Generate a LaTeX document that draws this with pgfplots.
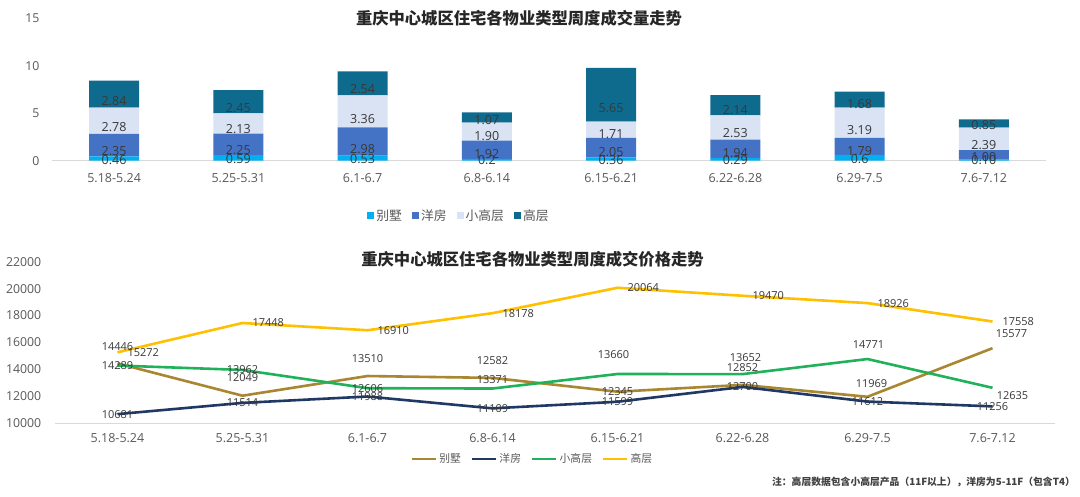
\documentclass[border=0pt]{standalone}
\usepackage{pgfplots}
\pgfplotsset{compat=1.18}
\usepackage{pgfplotstable}
\usepackage{fontspec}
\setmainfont{Open Sans}
\newfontfamily\cjk{Noto Sans CJK SC}
\definecolor{bsbar}{HTML}{00B0F0}
\definecolor{yfbar}{HTML}{4472C4}
\definecolor{xgbar}{HTML}{DAE3F3}
\definecolor{gcbar}{HTML}{0F6B8E}
\definecolor{bsline}{HTML}{A98730}
\definecolor{yfline}{HTML}{1F3864}
\definecolor{xgline}{HTML}{20B25A}
\definecolor{gcline}{HTML}{FFC000}
\definecolor{tickgray}{HTML}{595959}
\definecolor{labgray}{HTML}{383838}
\definecolor{basegray}{HTML}{D9D9D9}

\pgfplotstableread{
x bs yf xg gc
0 0.46 2.35 2.78 2.84
1 0.59 2.25 2.13 2.45
2 0.53 2.98 3.36 2.54
3 0.2 1.92 1.90 1.07
4 0.36 2.05 1.71 5.65
5 0.29 1.94 2.53 2.14
6 0.6 1.79 3.19 1.68
7 0.10 1.00 2.39 0.85
}\topdata

\pgfplotstableread{
x bs bdx bdy yf xg gdx gdy gc
0 14446 0 17 10681 14289 0 0 15272
1 12049 0 18 11514 13962 0 0 17448
2 13510 0 17 11988 12606 0 0 16910
3 13371 0 -2 11109 12582 0 28 18178
4 12345 0 0 11599 13660 -4 19 20064
5 12852 0 17 12700 13652 3 17 19470
6 11969 4 13 11612 14771 1 14 18926
7 15577 19 15 11256 12635 20 -8 17558
}\botdata

\pgfplotsset{
  /pgf/number format/assume math mode=true,
  /pgf/number format/set thousands separator={},
  common/.style={
    scale only axis,
    anchor=south west,
    xmin=-0.5, xmax=7.5,
    xtick={0,...,7},
    xticklabels={5.18-5.24,5.25-5.31,6.1-6.7,6.8-6.14,6.15-6.21,6.22-6.28,6.29-7.5,7.6-7.12},
    major tick length=0pt,
    axis lines*=left,
    y axis line style={draw=none},
    x axis line style={draw=basegray, line width=1pt},
    clip=false,
    scaled y ticks=false,
    tick label style={text=tickgray},
    xticklabel style={anchor=center, font=\fontsize{12.5}{13}\selectfont},
    yticklabel style={anchor=east, font=\fontsize{12.3}{13}\selectfont},
  },
}

\begin{document}
\begin{tikzpicture}
\useasboundingbox[fill=white] (0pt,0pt) rectangle (1080pt,497pt);

% ---------- top: volumes ----------
\begin{axis}[common,
  at={(52pt,336.3pt)},
  width=994pt, height=142.5pt,
  ymin=0, ymax=15, ytick={0,5,10,15},
  xticklabel style={yshift=-17.6pt},
  yticklabel style={xshift=-9pt},
  ybar stacked, bar width=50pt,
  point meta=explicit symbolic,
  nodes near coords,
  every node near coord/.append style={font=\fontsize{12.5}{13}\selectfont, text=labgray, anchor=center},
  legend image code/.code={\fill[#1] (0pt,-3.5pt) rectangle (7pt,3.5pt);},
  legend style={at={(0.4095,-0.388)}, anchor=center, draw=none, fill=none,
    legend columns=4, font=\cjk\fontsize{12.8}{14}\selectfont, text=tickgray,
    /tikz/every even column/.append style={column sep=8pt}},
]
\addplot[fill=bsbar, draw=none,
  visualization depends on={\thisrow{bs} \as \h},
  every node near coord/.append style={yshift={-2.375pt*\h}}]
  table[x=x, y=bs, meta=bs] {\topdata};
\addlegendentry{别墅}
\addplot[fill=yfbar, draw=none,
  visualization depends on={\thisrow{yf} \as \h},
  every node near coord/.append style={yshift={-2.375pt*\h}}]
  table[x=x, y=yf, meta=yf] {\topdata};
\addlegendentry{洋房}
\addplot[fill=xgbar, draw=none,
  visualization depends on={\thisrow{xg} \as \h},
  every node near coord/.append style={yshift={-2.375pt*\h}}]
  table[x=x, y=xg, meta=xg] {\topdata};
\addlegendentry{小高层}
\addplot[fill=gcbar, draw=none,
  visualization depends on={\thisrow{gc} \as \h},
  every node near coord/.append style={yshift={-2.375pt*\h}}]
  table[x=x, y=gc, meta=gc] {\topdata};
\addlegendentry{高层}
\end{axis}

% ---------- bottom: prices ----------
\begin{axis}[common,
  at={(55pt,73.7pt)},
  width=1000pt, height=161.6pt,
  ymin=10000, ymax=22000, ytick={10000,12000,...,22000},
  xticklabel style={yshift=-15pt},
  yticklabel style={xshift=-10.3pt},
  legend image code/.code={\draw[#1, line width=2.6pt] (0pt,0pt) -- (24pt,0pt);},
  legend style={at={(0.4775,-0.221)}, anchor=center, draw=none, fill=none,
    legend columns=4, font=\cjk\fontsize{10.8}{12}\selectfont, text=tickgray,
    /tikz/every even column/.append style={column sep=8pt}},
]
\addplot[bsline, line width=2.6pt] table[x=x, y=bs] {\botdata};
\addlegendentry{别墅}
\addplot[yfline, line width=2.6pt] table[x=x, y=yf] {\botdata};
\addlegendentry{洋房}
\addplot[xgline, line width=2.6pt] table[x=x, y=xg] {\botdata};
\addlegendentry{小高层}
\addplot[gcline, line width=2.6pt] table[x=x, y=gc] {\botdata};
\addlegendentry{高层}
% labels
\addplot[draw=none, forget plot, point meta=explicit symbolic, nodes near coords,
  visualization depends on={\thisrow{bdx} \as \dx},
  visualization depends on={\thisrow{bdy} \as \dy},
  every node near coord/.append style={font=\fontsize{11}{12}\selectfont, text=labgray, anchor=center, xshift={\dx*1pt}, yshift={\dy*1pt}}]
  table[x=x, y=bs, meta=bs] {\botdata};
\addplot[draw=none, forget plot, point meta=explicit symbolic, nodes near coords,
  every node near coord/.append style={font=\fontsize{11}{12}\selectfont, text=labgray, anchor=center}]
  table[x=x, y=yf, meta=yf] {\botdata};
\addplot[draw=none, forget plot, point meta=explicit symbolic, nodes near coords,
  visualization depends on={\thisrow{gdx} \as \dx},
  visualization depends on={\thisrow{gdy} \as \dy},
  every node near coord/.append style={font=\fontsize{11}{12}\selectfont, text=labgray, anchor=center, xshift={\dx*1pt}, yshift={\dy*1pt}}]
  table[x=x, y=xg, meta=xg] {\botdata};
\addplot[draw=none, forget plot, point meta=explicit symbolic, nodes near coords,
  every node near coord/.append style={font=\fontsize{11}{12}\selectfont, text=labgray, anchor=west, xshift=6.5pt}]
  table[x=x, y=gc, meta=gc] {\botdata};
\end{axis}

% titles and note
\node[font=\cjk\bfseries\fontsize{16.3}{18}\selectfont, text=black!85] at (519pt,478.5pt) {重庆中心城区住宅各物业类型周度成交量走势};
\node[font=\cjk\bfseries\fontsize{16.3}{18}\selectfont, text=black!85] at (532.5pt,237.7pt) {重庆中心城区住宅各物业类型周度成交价格走势};
\node[font=\cjk\bfseries\fontsize{9.8}{11}\selectfont, text=black!75, anchor=east, inner sep=0pt] at (1075pt,15pt) {注：高层数据包含小高层产品（11F以上），洋房为5-11F（包含T4）};
\end{tikzpicture}
\end{document}
